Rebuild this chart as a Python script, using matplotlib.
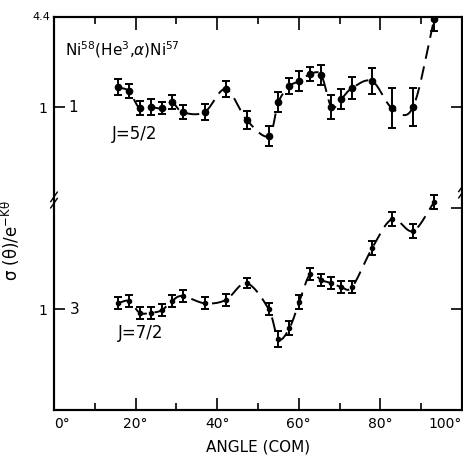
import numpy as np
import matplotlib
matplotlib.use("Agg")
import matplotlib.pyplot as plt

# ---- data ----
angles = [15.6, 18.3, 21.0, 23.7, 26.4, 28.9, 31.5, 36.9, 42.1, 47.2, 52.6, 55.0,
          57.7, 60.1, 62.8, 65.5, 68.0, 70.4, 73.1, 78.0, 82.9, 88.0, 93.2]
j52 = [1.39, 1.30, 0.98, 1.00, 0.98, 1.085, 0.92, 0.92, 1.345, 0.81, 0.62, 1.085,
       1.41, 1.53, 1.72, 1.69, 1.00, 1.14, 1.37, 1.53, 0.98, 1.00, 4.25]
j52_err_dex = [0.054, 0.050, 0.050, 0.057, 0.043, 0.050, 0.050, 0.057, 0.057, 0.064, 0.071, 0.071,
               0.057, 0.071, 0.050, 0.071, 0.086, 0.071, 0.079, 0.093, 0.143, 0.136, 0.086]
j72 = [1.10, 1.14, 0.94, 0.94, 0.98, 1.14, 1.24, 1.10, 1.16, 1.53, 1.00, 0.61,
       0.73, 1.12, 1.78, 1.61, 1.53, 1.44, 1.44, 2.73, 4.40, 3.61, 5.81]
j72_err_dex = [0.043, 0.043, 0.043, 0.043, 0.043, 0.043, 0.043, 0.043, 0.043, 0.036, 0.043, 0.057,
               0.050, 0.050, 0.043, 0.043, 0.043, 0.043, 0.043, 0.050, 0.050, 0.050, 0.050]
lower_shift_dex = -1.443   # offset of the J=7/2 curve on the log axis
xticks_major = [0, 20, 40, 60, 80, 100]
xtick_labels = ["0°", "20°", "40°", "60°", "80°", "100°"]
xticks_minor = [10, 30, 50, 70, 90]

plt.rcParams['font.family'] = ['DejaVu Sans']

fig = plt.figure(figsize=(4.64, 4.58), dpi=100)
ax = fig.add_axes([54/464, 1 - 410/458, 408/464, 393/458])
ax.set_yscale('log')
ymax = 4.4
ymin = 10 ** (-303/140)
ax.set_ylim(ymin, ymax)
ax.set_xlim(0, 100)

def smooth(x, y, n=20):
    x = np.asarray(x, float); y = np.asarray(y, float)
    P = np.column_stack([x, y])
    P = np.vstack([2*P[0]-P[1], P, 2*P[-1]-P[-2]])
    out = []
    for i in range(1, len(P)-2):
        p0, p1, p2, p3 = P[i-1], P[i], P[i+1], P[i+2]
        t = np.linspace(0, 1, n, endpoint=False)[:, None]
        pts = 0.5*((2*p1) + (-p0+p2)*t + (2*p0-5*p1+4*p2-p3)*t**2 + (-p0+3*p1-3*p2+p3)*t**3)
        out.append(pts)
    out.append(P[-2][None, :])
    out = np.vstack(out)
    return out[:, 0], out[:, 1]

def draw(vals, errs, shift, ms):
    ly = np.log10(vals) + shift
    e = np.asarray(errs)
    y = 10 ** ly
    lo = y - 10 ** (ly - e)
    hi = 10 ** (ly + e) - y
    sx, sy = smooth(angles, ly)
    ax.plot(sx, 10 ** sy, color='black', lw=1.4, dashes=(7, 4))
    ax.errorbar(angles, y, yerr=[lo, hi], fmt='o', color='black', ms=ms,
                elinewidth=1.4, capsize=3, capthick=1.4)

draw(j52, j52_err_dex, 0.0, 4.5)
draw(j72, j72_err_dex, lower_shift_dex, 3)

# ticks
ax.set_xticks(xticks_major)
ax.set_xticklabels(xtick_labels, fontsize=10)
labels = ax.get_xticklabels()
labels[0].set_horizontalalignment('left')
labels[-1].set_horizontalalignment('right')
ax.set_xticks(xticks_minor, minor=True)
ax.tick_params(axis='x', which='major', direction='in', length=9, width=1.2, top=True, pad=5)
ax.tick_params(axis='x', which='minor', direction='in', length=5, width=1.2, top=True)
y_up = 1.0
y_low = 10 ** lower_shift_dex
y_mid = 10 ** (-101/140)
ax.set_yticks([y_up, y_low])
ax.set_yticklabels(["1", "1"], fontsize=10)
ax.yaxis.set_minor_locator(matplotlib.ticker.NullLocator())
ax.tick_params(axis='y', which='major', direction='in', length=8, width=1.2, pad=5)
ax2 = ax.twinx()
ax2.set_yscale('log')
ax2.set_ylim(ymin, ymax)
ax2.set_yticks([y_up, y_mid, y_low])
ax2.set_yticklabels([])
ax2.yaxis.set_minor_locator(matplotlib.ticker.NullLocator())
ax2.tick_params(axis='y', which='major', direction='in', length=8, width=1.2)

for a in (ax, ax2):
    for s in a.spines.values():
        s.set_linewidth(1.5)

# texts
ax.text(-0.01, 1.0, "4.4", transform=ax.transAxes, ha='right', va='center', fontsize=8)
ax.text(3.5, y_up, "1", ha='left', va='center', fontsize=11)
ax.text(3.8, y_low, "3", ha='left', va='center', fontsize=11)
ax.text(2.7, 10 ** ((107-50)/140), r"Ni$^{58}$(He$^{3}$,$\alpha$)Ni$^{57}$", ha='left', va='center', fontsize=11)
ax.text(14.2, 10 ** ((107-134)/140), "J=5/2", ha='left', va='center', fontsize=12)
ax.text(15.6, 10 ** ((107-333)/140), "J=7/2", ha='left', va='center', fontsize=12)
ax.set_xlabel("ANGLE (COM)", fontsize=11, labelpad=6)
ax.set_ylabel("σ (θ)/e$^{-\\mathrm{K}\\mathrm{\\theta}}$", fontsize=12)
ax.yaxis.set_label_coords((22-54)/408, 0.43)

# axis break marks
for xa, ya in ((0.0, (410-200)/393), (1.0, (410-190)/393)):
    for d in (-0.008, 0.008):
        ax.plot([xa-0.008, xa+0.008], [ya+d-0.012, ya+d+0.012], color='black', lw=1.0,
                transform=ax.transAxes, clip_on=False)

fig.savefig("out.png", dpi=100)
